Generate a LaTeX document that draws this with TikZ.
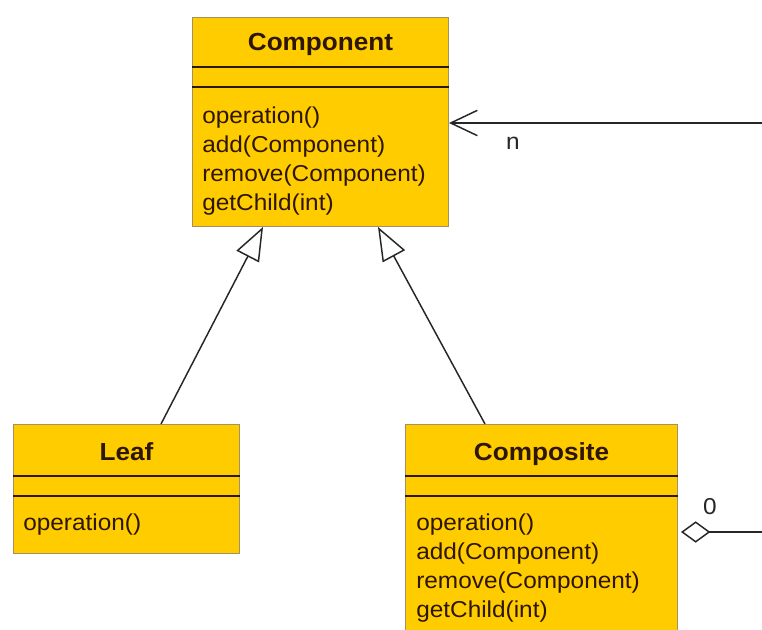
\documentclass[tikz,border=0pt]{standalone}
\usepackage{fontspec}
\setmainfont{Liberation Sans}[FakeStretch=1.06]
\usetikzlibrary{arrows.meta,calc}

\definecolor{gold}{HTML}{FFCC00}
\definecolor{ink}{RGB}{45,22,2}
\definecolor{boxedge}{RGB}{165,145,95}

\newcommand{\bodyfont}{\fontsize{17.25}{20}\selectfont}
\newcommand{\titlefont}{\fontsize{18.5}{22}\selectfont\bfseries}

\begin{document}
\begin{tikzpicture}[x=0.75pt,y=-0.75pt,
  cls/.style={draw=boxedge, fill=gold, line width=0.75pt, inner sep=0pt, anchor=north west},
  clstitle/.style={font=\titlefont, text=ink, anchor=base, inner sep=0pt},
  meth/.style={font=\bodyfont, text=ink, anchor=base west, inner sep=0pt},
  divider/.style={draw=ink, line width=1.5pt},
  conn/.style={draw=black!85, line width=1.1pt},
  gen/.style={conn, -{Triangle[open,length=25pt,width=19pt,line width=1.1pt]}},
  lbl/.style={font=\bodyfont, text=black!85, inner sep=0pt},
]
\clip (0,0) rectangle (762,630);
\fill[white] (0,0) rectangle (762,630);

% ---- Component ----
\node[cls, minimum width=192pt, minimum height=156.75pt] (comp) at (192,17) {};
\draw[divider] (comp.west |- 0,67) -- (comp.east |- 0,67);
\draw[divider] (comp.west |- 0,87.5) -- (comp.east |- 0,87.5);
\node[clstitle] (compT) at (comp.north |- 0,51) {Component};
\node[meth] (compM1) at (202,124) {operation()};
\node[meth] (compM2) at (202,153) {add(Component)};
\node[meth] (compM3) at (202,182) {remove(Component)};
\node[meth] (compM4) at (202,211) {getChild(int)};

% ---- Leaf ----
\node[cls, minimum width=169.5pt, minimum height=96.75pt] (leaf) at (13,424) {};
\draw[divider] (leaf.west |- 0,476) -- (leaf.east |- 0,476);
\draw[divider] (leaf.west |- 0,496) -- (leaf.east |- 0,496);
\node[clstitle] (leafT) at (leaf.north |- 0,460) {Leaf};
\node[meth] (leafM1) at (23,530) {operation()};

% ---- Composite ----
\node[cls, minimum width=204pt, minimum height=169.5pt] (compo) at (405,424) {};
\draw[divider] (compo.west |- 0,476) -- (compo.east |- 0,476);
\draw[divider] (compo.west |- 0,496) -- (compo.east |- 0,496);
\node[clstitle] (compoT) at (compo.north |- 0,460) {Composite};
\node[meth] (compoM1) at (416,530) {operation()};
\node[meth] (compoM2) at (416,559) {add(Component)};
\node[meth] (compoM3) at (416,588) {remove(Component)};
\node[meth] (compoM4) at (416,617) {getChild(int)};

% ---- generalisations ----
\draw[gen] ($(leaf.north west)+(148,0)$) -- ($(comp.south west)+(71,0)$);
\draw[gen] ($(compo.north west)+(80,0)$) -- ($(comp.south west)+(186,0)$);

% ---- association back to Component ----
\coordinate (assocEnd) at (762,123);
\draw[conn, -{Straight Barb[length=20pt,width=19pt,line width=1.1pt]}] (assocEnd) -- (comp.east |- assocEnd);
\node[lbl] (mulN) at (513,143) {n};

% ---- aggregation from Composite ----
\coordinate (aggEnd) at (762,532);
\draw[conn, {Diamond[open,length=22pt,width=16pt,line width=1.1pt]}-] ($(compo.east |- aggEnd)+(3,0)$) -- (aggEnd);
\node[lbl] (mulZero) at (710,507) {0};
\end{tikzpicture}
\end{document}
